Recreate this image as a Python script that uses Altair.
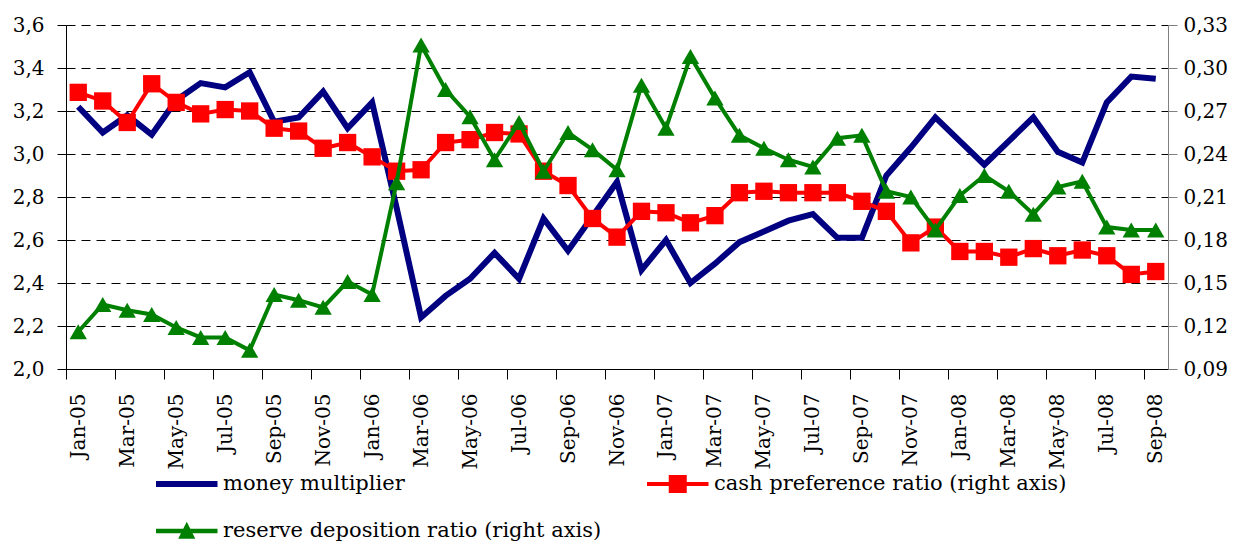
import altair as alt
import pandas as pd

FONT = "DejaVu Serif"

months = [
    "Jan-05", "Feb-05", "Mar-05", "Apr-05", "May-05", "Jun-05", "Jul-05", "Aug-05", "Sep-05", "Oct-05", "Nov-05", "Dec-05",
    "Jan-06", "Feb-06", "Mar-06", "Apr-06", "May-06", "Jun-06", "Jul-06", "Aug-06", "Sep-06", "Oct-06", "Nov-06", "Dec-06",
    "Jan-07", "Feb-07", "Mar-07", "Apr-07", "May-07", "Jun-07", "Jul-07", "Aug-07", "Sep-07", "Oct-07", "Nov-07", "Dec-07",
    "Jan-08", "Feb-08", "Mar-08", "Apr-08", "May-08", "Jun-08", "Jul-08", "Aug-08", "Sep-08",
]

money_multiplier = [
    3.22, 3.10, 3.18, 3.09, 3.25, 3.33, 3.31, 3.38, 3.15, 3.17, 3.29, 3.12,
    3.24, 2.75, 2.24, 2.34, 2.42, 2.54, 2.42, 2.70, 2.55, 2.71, 2.87, 2.46,
    2.60, 2.40, 2.49, 2.59, 2.64, 2.69, 2.72, 2.61, 2.61, 2.90, 3.03, 3.17,
    3.06, 2.95, 3.06, 3.17, 3.01, 2.96, 3.24, 3.36, 3.35,
]

cash_preference = [
    0.283, 0.277, 0.262, 0.289, 0.276, 0.268, 0.271, 0.270, 0.258, 0.256, 0.244, 0.248,
    0.238, 0.228, 0.229, 0.248, 0.250, 0.255, 0.254, 0.228, 0.218, 0.195, 0.182, 0.200,
    0.199, 0.192, 0.197, 0.213, 0.214, 0.213, 0.213, 0.213, 0.207, 0.200, 0.178, 0.189,
    0.172, 0.172, 0.168, 0.174, 0.169, 0.173, 0.169, 0.156, 0.158,
]

reserve_deposition = [
    0.116, 0.135, 0.131, 0.128, 0.119, 0.112, 0.112, 0.103, 0.142, 0.138, 0.133, 0.151,
    0.142, 0.220, 0.316, 0.285, 0.266, 0.236, 0.262, 0.228, 0.255, 0.243, 0.229, 0.288,
    0.258, 0.308, 0.279, 0.253, 0.244, 0.236, 0.231, 0.251, 0.253, 0.214, 0.210, 0.187,
    0.211, 0.225, 0.214, 0.198, 0.217, 0.221, 0.189, 0.187, 0.187,
]

series_names = [
    "money multiplier",
    "cash preference ratio (right axis)",
    "reserve deposition ratio (right axis)",
]
series_colors = ["#000080", "#FF0000", "#008000"]

left_ticks = [2.0, 2.2, 2.4, 2.6, 2.8, 3.0, 3.2, 3.4, 3.6]
right_ticks = [0.09, 0.12, 0.15, 0.18, 0.21, 0.24, 0.27, 0.30, 0.33]

# legend symbols: line with marker (path units scaled by sqrt(size)/2)
legend_paths = [
    "M-1,-0.2L3.1,-0.2L3.1,0.2L-1,0.2Z",
    "M-1,-0.14L0.45,-0.14L0.45,-0.6L1.65,-0.6L1.65,-0.14L3.1,-0.14L3.1,0.14L1.65,0.14L1.65,0.6L0.45,0.6L0.45,0.14L-1,0.14Z",
    "M-1,-0.15L3.1,-0.15L3.1,0.15L-1,0.15Z M1.05,-0.62L1.62,0.52L0.48,0.52Z",
]

df = pd.DataFrame({
    "i": list(range(len(months))),
    "month": months,
    "mm": money_multiplier,
    "cash": cash_preference,
    "res": reserve_deposition,
})
legend_df = pd.DataFrame({"series": series_names})

x_vals = []
for k in range(0, len(months), 2):
    x_vals += [k - 0.5, k]
label_arr = "[" + ",".join("'" + m + "'" for m in months) + "]"

x_axis = alt.Axis(
    values=x_vals,
    labelExpr="datum.value % 2 == 0 ? " + label_arr + "[datum.value] : ''",
    labelAngle=-90,
    labelFont=FONT,
    labelFontSize=20,
    labelColor="black",
    labelPadding=14,
    labelOverlap=False,
    labelFlush=False,
    tickSize=10,
    tickColor="black",
    tickOpacity={"condition": {"test": "datum.value % 2 == 0", "value": 0}, "value": 1},
    domainColor="black",
    grid=False,
    title=None,
)
x_enc = alt.X("i:Q", scale=alt.Scale(domain=[-0.5, len(months) - 0.5], nice=False, zero=False), axis=x_axis)

left_axis = alt.Axis(
    orient="left",
    values=left_ticks,
    labelExpr="replace(format(datum.value, '.1f'), '.', ',')",
    labelFont=FONT,
    labelFontSize=20,
    labelColor="black",
    labelPadding=13,
    tickSize=9,
    tickColor="black",
    domainColor="black",
    grid=True,
    gridColor="black",
    gridDash=[9, 6],
    gridWidth=1,
    title=None,
)
right_axis = alt.Axis(
    orient="right",
    values=right_ticks,
    labelExpr="replace(format(datum.value, '.2f'), '.', ',')",
    labelFont=FONT,
    labelFontSize=20,
    labelColor="black",
    labelPadding=6,
    tickSize=9,
    tickColor="#808080",
    domainColor="#808080",
    grid=False,
    title=None,
)
y_left_scale = alt.Scale(domain=[2.0, 3.6], nice=False, zero=False)
y_right_scale = alt.Scale(domain=[0.09, 0.33], nice=False, zero=False)

base = alt.Chart(df)

mm_line = base.mark_line(color="#000080", strokeWidth=6).encode(
    x=x_enc, y=alt.Y("mm:Q", scale=y_left_scale, axis=left_axis)
)

leg = alt.Legend(
    title=None,
    orient="none",
    direction="horizontal",
    legendX=90,
    legendY=444,
    columns=2,
    columnPadding=45,
    rowPadding=22,
    labelFont=FONT,
    labelFontSize=21,
    labelColor="black",
    labelLimit=0,
    labelOffset=37,
    symbolSize=900,
    symbolStrokeWidth=0,
)
legend_layer = alt.Chart(legend_df).transform_filter("false").mark_point(
    filled=True, size=900, opacity=1
).encode(
    color=alt.Color("series:N", scale=alt.Scale(domain=series_names, range=series_colors), legend=leg),
    shape=alt.Shape("series:N", scale=alt.Scale(domain=series_names, range=legend_paths), legend=leg),
)

y_cash = alt.Y("cash:Q", scale=y_right_scale, axis=right_axis)
y_res = alt.Y("res:Q", scale=y_right_scale, axis=right_axis)

cash_line = base.mark_line(color="#FF0000", strokeWidth=4).encode(x=x_enc, y=y_cash)
cash_pts = base.mark_point(filled=True, color="#FF0000", shape="square", size=300, opacity=1).encode(x=x_enc, y=y_cash)
res_line = base.mark_line(color="#008000", strokeWidth=4).encode(x=x_enc, y=y_res)
res_pts = base.mark_point(filled=True, color="#008000", shape="triangle-up", size=300, opacity=1).encode(x=x_enc, y=y_res)

left = alt.layer(mm_line, legend_layer)
right = alt.layer(cash_line, cash_pts, res_line, res_pts)

chart = alt.layer(left, right).resolve_scale(y="independent").properties(
    width=1102,
    height=344,
    autosize=alt.AutoSizeParams(type="none"),
    padding={"left": 58, "top": 17, "right": 61, "bottom": 174},
    background="white",
).configure_view(strokeWidth=0)

chart.save("out.html", embed_options={"renderer": "svg", "actions": False})
